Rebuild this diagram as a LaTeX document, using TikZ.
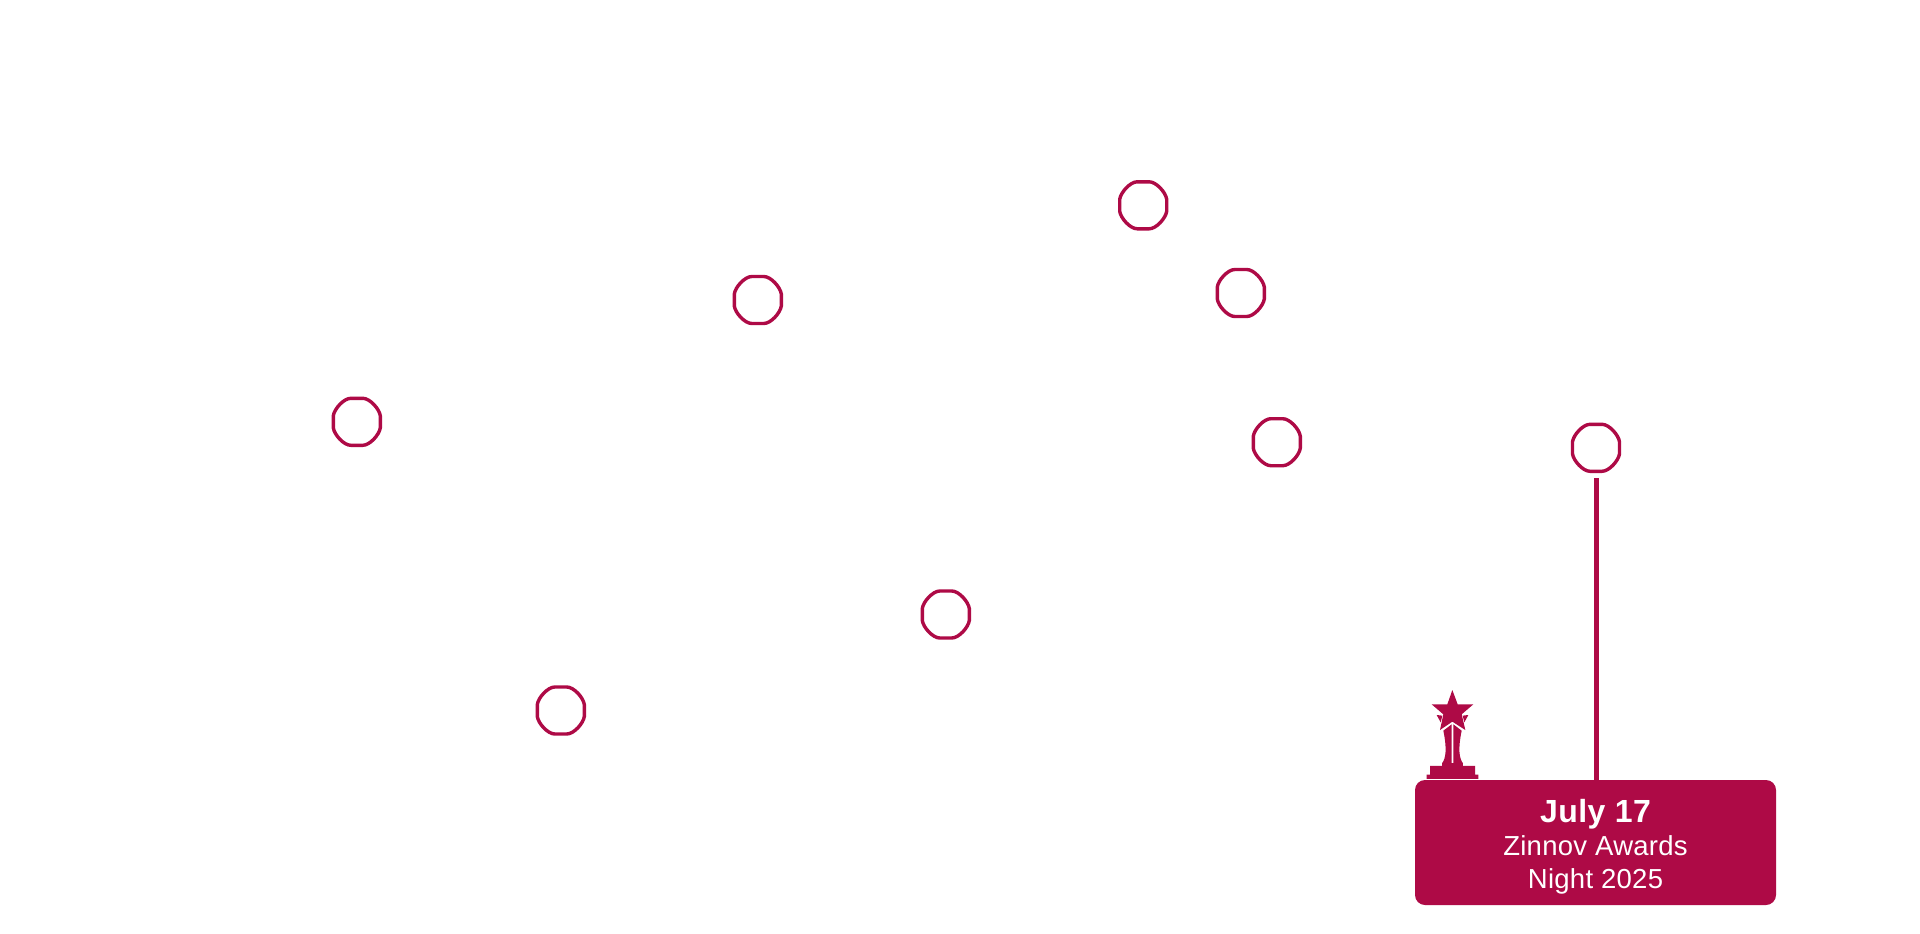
\documentclass[tikz,border=0pt]{standalone}
\usepackage{fontspec}
\setmainfont{Liberation Sans}
\definecolor{crimson}{HTML}{AE0A46}
\tikzset{
  x=1pt,y=-1pt,
  dotanchor/.style={circle,minimum size=50pt,inner sep=0pt},
  ringline/.style={draw=crimson,line width=3.4pt,fill=white},
  stem/.style={draw=crimson,line width=5pt},
  card/.style={fill=crimson,rounded corners=10pt,minimum width=361pt,minimum height=125pt,inner sep=0pt},
  cardtext/.style={text=white,anchor=base,inner sep=0pt},
}
\newcommand{\ringdot}[2]{%
  \node[dotanchor] (#1) at (#2) {};
  \draw[ringline,shift={(#1.center)}]
    (-6,-23.5) -- (6,-23.5) .. controls (13,-23.5) and (22.5,-13) .. (23.5,-6)
    -- (23.5,6) .. controls (22.5,13) and (13,23.5) .. (6,23.5)
    -- (-6,23.5) .. controls (-13,23.5) and (-22.5,13) .. (-23.5,6)
    -- (-23.5,-6) .. controls (-22.5,-13) and (-13,-23.5) .. (-6,-23.5) -- cycle;
}
\begin{document}
\begin{tikzpicture}
\useasboundingbox (0,0) rectangle (1920,934);
\fill[white] (0,0) rectangle (1920,934);
\ringdot{a}{356.8,421.8}
\ringdot{b}{757.8,300}
\ringdot{c}{1143.2,205.3}
\ringdot{d}{1240.8,293}
\ringdot{e}{1276.8,442.2}
\ringdot{f}{945.8,614.5}
\ringdot{g}{560.8,710.5}
\ringdot{h}{1596,447.8}
\node[card] (box) at (1595.5,842.5) {};
\coordinate (stemtop) at (1596,478);
\draw[stem] (stemtop) -- (stemtop |- box.north);
\node[cardtext,font=\bfseries\fontsize{32}{32}\selectfont\addfontfeatures{LetterSpace=1.5}] (t1) at (1595.5,822) {July 17};
\node[cardtext,font=\fontsize{27.5}{27.5}\selectfont\addfontfeatures{LetterSpace=1}] (t2) at (1595.5,855) {Zinnov Awards};
\node[cardtext,font=\fontsize{27.5}{27.5}\selectfont\addfontfeatures{LetterSpace=1}] (t3) at (1595.5,888) {Night 2025};
\begin{scope}[shift={(1410,680)},x=0.3333pt,y=-0.3333pt]
\fill[crimson]
 (127,30) -- (143,73) -- (190,73) -- (155,103) -- (166,150) -- (127,125) -- (90,150) -- (100,103) -- (65,73) -- (112,73) -- cycle;
\fill[crimson] (80,105) -- (97,107) -- (92,127) -- cycle;
\fill[crimson] (175,105) -- (158,107) -- (163,127) -- cycle;
\fill[crimson] (100,152) -- (125,133) -- (125,250) -- (96,250) .. controls (108,235) and (111,205) .. (100,152) -- cycle;
\fill[crimson] (155,152) -- (130,133) -- (130,250) -- (159,250) .. controls (147,235) and (144,205) .. (155,152) -- cycle;
\fill[crimson] (96,250) rectangle (159,258);
\fill[crimson] (60,258) -- (195,258) -- (195,284) -- (205,284) -- (205,297) -- (50,297) -- (50,284) -- (60,284) -- cycle;
\end{scope}
\end{tikzpicture}
\end{document}
